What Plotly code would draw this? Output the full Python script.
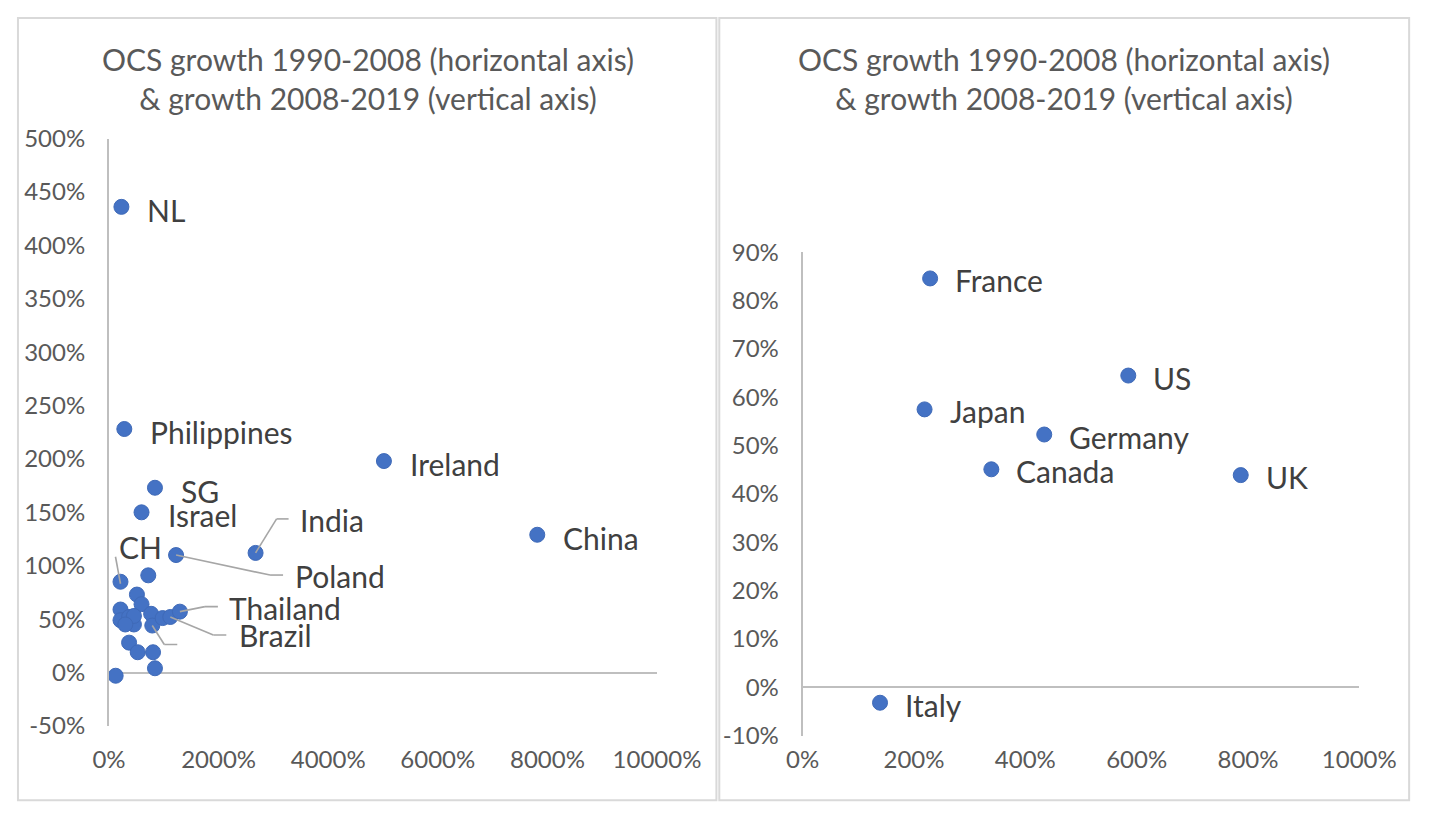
import plotly.graph_objects as go

W, H = 1456, 819

# ---------------- data (percent) ----------------
left_x = [227, 280, 839, 594, 5017, 2675, 1224, 7815, 210, 717, 510, 594, 210, 210,
          367, 455, 455, 297, 769, 790, 979, 1119, 1294, 367, 524, 804, 839, 122]
left_y = [436, 228, 173, 150, 198, 112, 110, 129, 85, 91, 73, 64, 59, 49,
          52, 45, 53, 45, 55, 44, 51, 52, 57, 28, 19, 19, 4, -3]
left_labels = ["NL", "Philippines", "SG", "Israel", "Ireland", "India", "Poland", "China",
               "CH", "", "", "", "", "", "", "", "", "", "", "", "", "Brazil", "Thailand",
               "", "", "", "", ""]

right_x = [229, 585, 219, 434, 339, 787, 139]
right_y = [84.6, 64.5, 57.5, 52.3, 45.1, 43.9, -3.2]
right_labels = ["France", "US", "Japan", "Germany", "Canada", "UK", "Italy"]

left_xticks = [0, 2000, 4000, 6000, 8000, 10000]
left_yticks = [-50, 0, 50, 100, 150, 200, 250, 300, 350, 400, 450, 500]
right_xticks = [0, 200, 400, 600, 800, 1000]
right_yticks = [-10, 0, 10, 20, 30, 40, 50, 60, 70, 80, 90]

title_text = "OCS growth 1990-2008 (horizontal axis)<br>& growth 2008-2019 (vertical axis)"

# ---------------- styles ----------------
BLUE = "#4472C4"
FONT = "Lato"
TICKC = "#595959"
LABC = "#404040"
AXC = "#BFBFBF"
LEADC = "#A6A6A6"

# label placement (pixel offsets relative to point) for labels with leader lines
label_offsets = {
    "India": (42, 33), "Poland": (117, -21), "CH": (-3, 35),
    "Thailand": (47, 4), "Brazil": (67, -18),
}
leaders = {
    "India": [(0, 0), (21, 34), (33, 34)],
    "Poland": [(0, 0), (94, -20), (107, -20)],
    "CH": [(0, -2), (-5, 25)],
    "Thailand": [(0, 0), (25, 5), (38, 5)],
    "Brazil": [(0, 0), (43, -18), (56, -18)],
}
blank_leader_index = 19
blank_leader = [(0, 0), (12, -19), (25, -19)]

fig = go.Figure()
fig.add_trace(go.Scatter(x=left_x, y=left_y, mode="markers", xaxis="x", yaxis="y",
                         marker=dict(size=15, color=BLUE, line=dict(color="#3F6AB8", width=1)),
                         hoverinfo="text", text=left_labels))
fig.add_trace(go.Scatter(x=right_x, y=right_y, mode="markers", xaxis="x2", yaxis="y2",
                         marker=dict(size=15, color=BLUE, line=dict(color="#3F6AB8", width=1)),
                         hoverinfo="text", text=right_labels))

annotations = []
shapes = []

def add_leader(xa, ya, px, py, pts):
    for (a, b) in zip(pts[:-1], pts[1:]):
        shapes.append(dict(type="line", xref=xa, yref=ya, xsizemode="pixel", ysizemode="pixel",
                           xanchor=px, yanchor=py, x0=a[0], y0=a[1], x1=b[0], y1=b[1],
                           line=dict(color=LEADC, width=1.6), layer="above"))

LABSIZE = 30
for xv, yv, lab in zip(left_x, left_y, left_labels):
    if not lab:
        continue
    if lab in label_offsets:
        dx, dy = label_offsets[lab]
        add_leader("x", "y", xv, yv, leaders[lab])
    else:
        dx, dy = 24, -3
    annotations.append(dict(x=xv, y=yv, xref="x", yref="y", text=lab, showarrow=False,
                            xanchor="left", yanchor="middle", xshift=dx, yshift=dy,
                            font=dict(family=FONT, size=LABSIZE, color=LABC)))
add_leader("x", "y", left_x[blank_leader_index], left_y[blank_leader_index], blank_leader)

for xv, yv, lab in zip(right_x, right_y, right_labels):
    annotations.append(dict(x=xv, y=yv, xref="x2", yref="y2", text=lab, showarrow=False,
                            xanchor="left", yanchor="middle", xshift=23, yshift=-2,
                            font=dict(family=FONT, size=LABSIZE, color=LABC)))

# titles
for cx in (366, 1093):
    annotations.append(dict(x=cx / W, y=1 - 65 / H, xref="paper", yref="paper",
                            text=title_text, showarrow=False, xanchor="center", yanchor="middle",
                            align="center",
                            font=dict(family=FONT, size=30, color=TICKC)))

# panel borders
shapes.append(dict(type="rect", xref="paper", yref="paper", x0=1 / W, x1=730 / W,
                   y0=1 - 813 / H, y1=1 - 2 / H, line=dict(color="#D9D9D9", width=2), layer="below"))
shapes.append(dict(type="rect", xref="paper", yref="paper", x0=733 / W, x1=1453 / W,
                   y0=1 - 813 / H, y1=1 - 2 / H, line=dict(color="#D9D9D9", width=2), layer="below"))

tickfont = dict(family=FONT, size=24, color=TICKC)

def xaxis(dom, rng, ticks, anchor, standoff):
    return dict(domain=dom, range=rng, tickvals=ticks, ticktext=[f"{t}%" for t in ticks],
                showgrid=False, zeroline=False, showline=False, anchor=anchor,
                tickfont=tickfont, ticks="", ticklabelstandoff=standoff, fixedrange=True)

def yaxis(dom, rng, ticks, anchor):
    return dict(domain=dom, range=rng, tickvals=ticks, ticktext=[f"{t}%" for t in ticks],
                showgrid=False, zeroline=True, zerolinecolor=AXC, zerolinewidth=2,
                showline=True, linecolor=AXC, linewidth=2, anchor=anchor,
                tickfont=tickfont, ticks="", ticklabelstandoff=17, fixedrange=True)

fig.update_layout(
    autosize=True,
    margin=dict(l=0, r=0, t=0, b=0),
    paper_bgcolor="white", plot_bgcolor="white",
    showlegend=False,
    xaxis=xaxis([96 / W, 668 / W], [0, 10000], left_xticks, "y", 17),
    yaxis=yaxis([1 - 736 / H, 1 - 127 / H], [-50, 500], left_yticks, "x"),
    xaxis2=xaxis([820 / W, 1401 / W], [0, 1000], right_xticks, "y2", 7),
    yaxis2=yaxis([1 - 746 / H, 1 - 245 / H], [-10, 90], right_yticks, "x2"),
    annotations=annotations,
    shapes=shapes,
)

fig.write_html("out.html", config={"displayModeBar": False, "responsive": True},
               default_width="100vw", default_height="100vh",
               post_script="document.documentElement.style.margin='0';document.body.style.margin='0';document.body.style.overflow='hidden';")
